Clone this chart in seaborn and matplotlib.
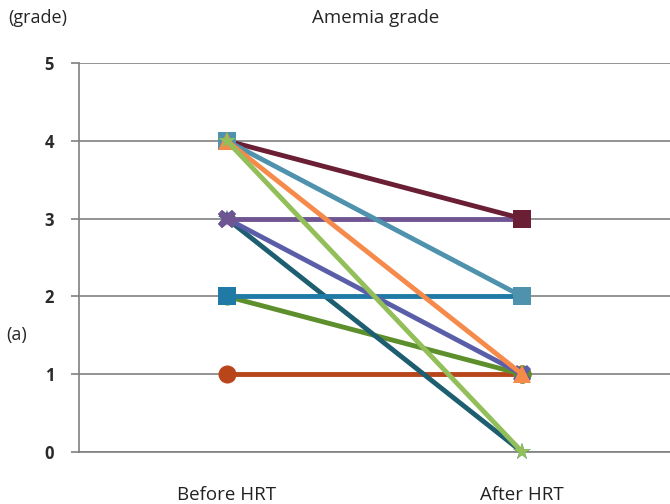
import pandas as pd
import matplotlib
matplotlib.use("Agg")
import matplotlib.pyplot as plt
import seaborn as sns

# grades before / after HRT, one line per patient (later ones drawn on top)
stages = ["Before HRT", "After HRT"]
patients = ["P1", "P2", "P3", "P4", "P5", "P6", "P7", "P8", "P9", "P10"]
before = [1, 2, 3, 2, 3, 3, 4, 4, 4, 4]
after = [1, 1, 0, 2, 1, 3, 3, 2, 1, 0]

colors = ["#b8461a", "#5d8f2c", "#1d5e70", "#1f7aa6", "#5a5ea8",
          "#6f5591", "#6b1f34", "#4f92ae", "#f58a4a", "#93bf5a"]
marks = ["o", "o", "*", "s", "X", "X", "s", "s", "^", "*"]

rows = []
for p, b, a in zip(patients, before, after):
    rows.append({"stage": stages[0], "grade": b, "patient": p})
    rows.append({"stage": stages[1], "grade": a, "patient": p})
df = pd.DataFrame(rows)

sns.set_style("white")
plt.rcParams["font.family"] = ["Open Sans", "DejaVu Sans"]

fig = plt.figure(figsize=(6.7, 5.04), dpi=100)
ax = fig.add_axes([0.118, 0.103, 0.882, 0.772])

sns.lineplot(data=df, x="stage", y="grade", hue="patient", style="patient",
             palette=colors, markers=dict(zip(patients, marks)), dashes=False,
             linewidth=3.5, markersize=13, markeredgewidth=0, legend=False, ax=ax,
             zorder=3, clip_on=False)

ax.set_xlim(-0.5, 1.5)
ax.set_ylim(0, 5)
ax.set_yticks([0, 1, 2, 3, 4, 5])
ax.yaxis.grid(True, color="#808080", linewidth=1.2)
ax.set_axisbelow(True)
ax.set_xlabel("")
ax.set_ylabel("")

for s in ["top", "right"]:
    ax.spines[s].set_visible(False)
for s in ["left", "bottom"]:
    ax.spines[s].set_color("#808080")
    ax.spines[s].set_linewidth(1.2)

ax.tick_params(axis="y", left=True, length=6, width=1.2, color="#808080",
               pad=12, labelsize=12, labelcolor="#2a2a2a")
for lab in ax.get_yticklabels():
    lab.set_fontweight("bold")
ax.tick_params(axis="x", bottom=False, pad=21, labelsize=13.5, labelcolor="#222222")

fig.text(0.012, 0.954, "(grade)", fontsize=13, ha="left", va="baseline")
fig.text(0.56, 0.954, "Amemia grade", fontsize=13.5, ha="center", va="baseline")
fig.text(0.01, 0.335, "(a)", fontsize=13, ha="left", va="center")

fig.savefig("out.png", dpi=100)
